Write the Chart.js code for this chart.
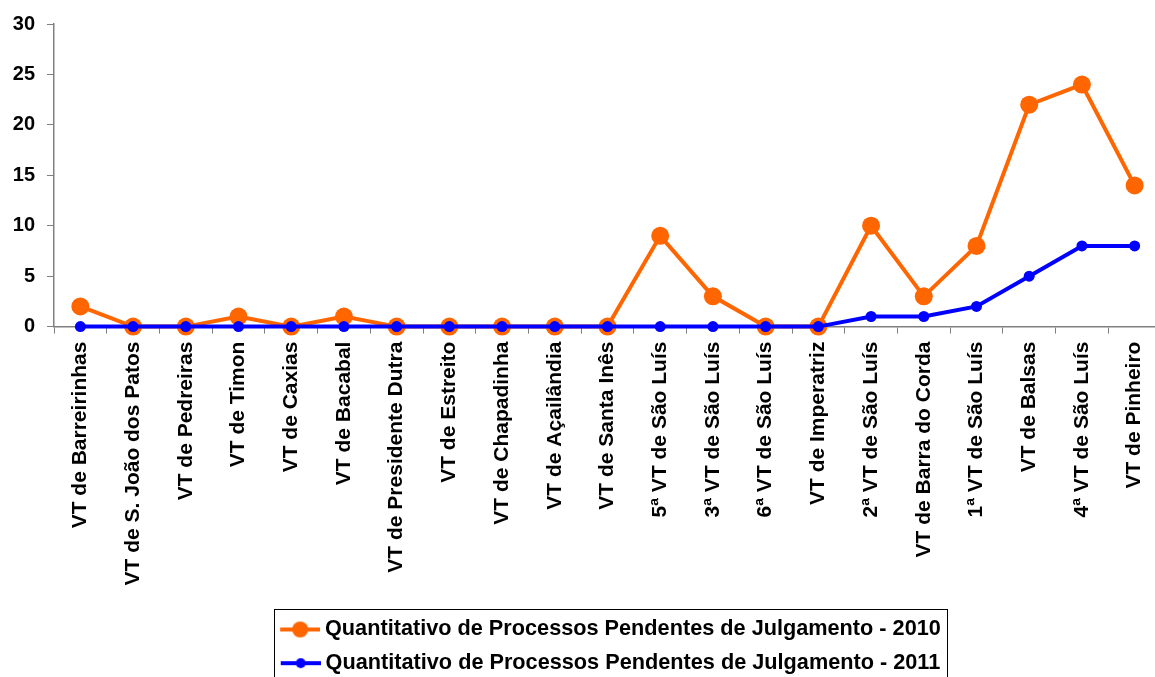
<!DOCTYPE html>
<html lang="pt">
<head>
  <meta charset="UTF-8">
  <title>Processos Pendentes de Julgamento</title>
  <script src="https://cdn.jsdelivr.net/npm/chart.js"></script>
  <style>
    html, body { margin: 0; padding: 0; background: #fff; overflow: hidden; }
    .wrap { width: 1170px; height: 684px; }
  </style>
</head>
<body>
  <div class="wrap"><canvas id="chart" width="1170" height="684"></canvas></div>
  <script>
    // dados
    const varas = [
      'VT de Barreirinhas', 'VT de S. João dos Patos', 'VT de Pedreiras', 'VT de Timon',
      'VT de Caxias', 'VT de Bacabal', 'VT de Presidente Dutra', 'VT de Estreito',
      'VT de Chapadinha', 'VT de Açailândia', 'VT de Santa Inês', '5ª VT de São Luís',
      '3ª VT de São Luís', '6ª VT de São Luís', 'VT de Imperatriz', '2ª VT de São Luís',
      'VT de Barra do Corda', '1ª VT de São Luís', 'VT de Balsas', '4ª VT de São Luís',
      'VT de Pinheiro'
    ];
    const pendentes2010 = [2, 0, 0, 1, 0, 1, 0, 0, 0, 0, 0, 9, 3, 0, 0, 10, 3, 8, 22, 24, 14];
    const pendentes2011 = [0, 0, 0, 0, 0, 0, 0, 0, 0, 0, 0, 0, 0, 0, 0, 1, 1, 2, 5, 8, 8];
    const yTicks = [0, 5, 10, 15, 20, 25, 30];

    const FONT = "'Liberation Sans', Arial, sans-serif";
    const ORANGE = '#FF6600';
    const BLUE = '#0000FF';

    // marcador da legenda: linha com ponto (um pouco à direita do centro)
    function legendMarker(color, r) {
      const c = document.createElement('canvas');
      c.width = 48; c.height = 20;
      const g = c.getContext('2d');
      g.strokeStyle = color; g.lineWidth = 4;
      g.beginPath(); g.moveTo(8, 10); g.lineTo(48, 10); g.stroke();
      g.fillStyle = color;
      g.beginPath(); g.arc(28, 10, r, 0, Math.PI * 2); g.fill();
      return c;
    }

    // desloca a legenda e desenha a moldura em volta dela
    const legendBox = {
      id: 'legendBox',
      afterLayout(chart) {
        const lg = chart.legend;
        const dx = 28;
        lg.left += dx; lg.right += dx;
        (lg.legendHitBoxes || []).forEach(h => { h.left += dx; });
      },
      afterDraw(chart) {
        const boxes = chart.legend.legendHitBoxes;
        if (!boxes || !boxes.length) return;
        let l = Infinity, r = -Infinity, t = Infinity, b = -Infinity;
        boxes.forEach(h => {
          l = Math.min(l, h.left); r = Math.max(r, h.left + h.width);
          t = Math.min(t, h.top); b = Math.max(b, h.top + h.height);
        });
        const ctx = chart.ctx;
        ctx.save();
        ctx.strokeStyle = '#000';
        ctx.lineWidth = 1;
        ctx.strokeRect(Math.round(l - 4) + 0.5, Math.round(t - 10) + 0.5, Math.round(r - l + 10), Math.round(b - t + 20));
        ctx.restore();
      }
    };

    new Chart(document.getElementById('chart'), {
      type: 'line',
      data: {
        labels: varas,
        datasets: [
          {
            label: 'Quantitativo de Processos Pendentes de Julgamento - 2010',
            data: pendentes2010,
            borderColor: ORANGE,
            backgroundColor: ORANGE,
            borderWidth: 4,
            pointRadius: 9,
            pointBorderWidth: 0,
            tension: 0,
            clip: false,
            order: 1
          },
          {
            label: 'Quantitativo de Processos Pendentes de Julgamento - 2011',
            data: pendentes2011,
            borderColor: BLUE,
            backgroundColor: BLUE,
            borderWidth: 4,
            pointRadius: 5.5,
            pointBorderWidth: 0,
            tension: 0,
            clip: false,
            order: 0
          }
        ]
      },
      options: {
        responsive: false,
        animation: false,
        layout: { padding: { top: 24, left: 0, right: 7, bottom: 0 } },
        plugins: {
          tooltip: { enabled: false },
          legend: {
            position: 'bottom',
            labels: {
              font: { family: FONT, size: 21.7, weight: 'bold' },
              color: '#000',
              padding: 12,
              usePointStyle: true,
              pointStyleWidth: 36,
              sort: (a, b) => a.datasetIndex - b.datasetIndex,
              generateLabels(chart) {
                const items = Chart.defaults.plugins.legend.labels.generateLabels(chart);
                items.forEach(it => {
                  it.pointStyle = it.datasetIndex === 0 ? legendMarker(ORANGE, 8) : legendMarker(BLUE, 5);
                });
                return items;
              }
            }
          }
        },
        scales: {
          x: {
            offset: true,
            grid: { display: true, drawOnChartArea: false, tickLength: 7, color: '#808080', offset: true },
            border: { color: '#808080', width: 1.5 },
            ticks: {
              autoSkip: false,
              minRotation: 90,
              maxRotation: 90,
              padding: 8,
              color: '#000',
              font: { family: FONT, size: 21, weight: 'bold' }
            },
            afterFit(scale) { scale.height = 280; }
          },
          y: {
            min: 0,
            max: 30,
            afterBuildTicks(scale) { scale.ticks = yTicks.map(v => ({ value: v })); },
            grid: { display: true, drawOnChartArea: false, tickLength: 7, color: '#808080' },
            border: { color: '#808080', width: 1.5 },
            ticks: {
              padding: 12,
              color: '#000',
              font: { family: FONT, size: 20, weight: 'bold' }
            },
            afterFit(scale) { scale.width = 54; }
          }
        }
      },
      plugins: [legendBox]
    });
  </script>
</body>
</html>
